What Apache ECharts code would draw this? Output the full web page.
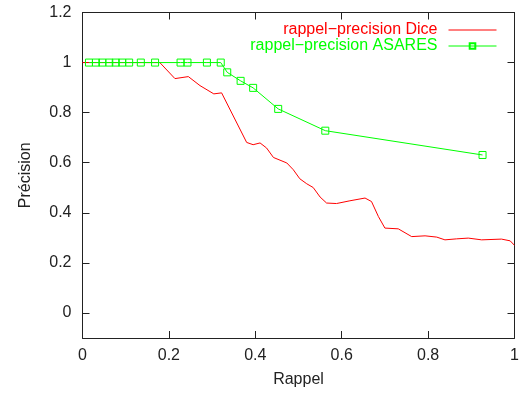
<!DOCTYPE html>
<html>
<head>
<meta charset="utf-8">
<script src="https://cdn.jsdelivr.net/npm/echarts@6/dist/echarts.min.js"></script>
<style>
  html, body { margin: 0; padding: 0; background: #fff; }
  #chart { width: 525px; height: 396px; }
</style>
</head>
<body>
<div id="chart"></div>
<script>
// Recall / precision curves
const diceRecall = [0, 0.179, 0.214, 0.245, 0.272, 0.304, 0.322, 0.380, 0.395, 0.411, 0.426, 0.442,
  0.473, 0.488, 0.503, 0.519, 0.534, 0.550, 0.565, 0.588, 0.619, 0.654, 0.669, 0.685, 0.700,
  0.731, 0.762, 0.793, 0.820, 0.839, 0.866, 0.893, 0.924, 0.970, 0.990, 1.0];
const dicePrecision = [1, 1.0, 0.936, 0.944, 0.908, 0.875, 0.879, 0.681, 0.672, 0.679, 0.659, 0.621,
  0.599, 0.572, 0.536, 0.516, 0.501, 0.463, 0.439, 0.437, 0.448, 0.459, 0.445, 0.385, 0.339,
  0.336, 0.305, 0.308, 0.303, 0.292, 0.296, 0.299, 0.292, 0.295, 0.288, 0.27];

const asaresRecall = [0.015, 0.031, 0.046, 0.062, 0.077, 0.092, 0.108, 0.135, 0.168, 0.227,
  0.243, 0.288, 0.320, 0.335, 0.366, 0.395, 0.453, 0.562, 0.926];
const asaresPrecision = [1, 1, 1, 1, 1, 1, 1, 1, 1, 1,
  1, 1, 1, 0.961, 0.927, 0.899, 0.815, 0.728, 0.631];

const xTicks = [0, 0.2, 0.4, 0.6, 0.8, 1];
const yTicks = [0, 0.2, 0.4, 0.6, 0.8, 1, 1.2];

const seriesNames = ['rappel\u2212precision Dice', 'rappel\u2212precision ASARES'];
const RED = '#ff0000';
const GREEN = '#00ff00';
const AXIS = '#222';
const FONT = 'Liberation Sans, Arial, sans-serif';
const FS = 16;

const zip = (xs, ys) => xs.map((x, i) => [x, ys[i]]);

const chart = echarts.init(document.getElementById('chart'), null, { renderer: 'canvas' });

const axisCommon = {
  axisLine: { show: true, onZero: false, lineStyle: { color: AXIS, width: 1 } },
  axisTick: { show: true, inside: true, length: 7, lineStyle: { color: AXIS, width: 1 } },
  splitLine: { show: false }
};

chart.setOption({
  animation: false,
  backgroundColor: '#fff',
  textStyle: { fontFamily: FONT },
  grid: { left: 82.5, right: 10.5, top: 12.5, bottom: 58, containLabel: false },
  legend: {
    orient: 'vertical',
    right: 23,
    top: 17,
    align: 'right',
    itemWidth: 48,
    itemHeight: 7,
    itemGap: 0,
    textStyle: { fontSize: FS, fontFamily: FONT, padding: [0, 6, 0, 0] },
    data: [
      { name: seriesNames[0], textStyle: { color: RED }, itemStyle: { opacity: 0 },
        lineStyle: { width: 1 } },
      { name: seriesNames[1], textStyle: { color: GREEN }, lineStyle: { width: 1 } }
    ]
  },
  xAxis: [
    Object.assign({}, axisCommon, {
      type: 'value', min: 0, max: 1, interval: 0.2, position: 'bottom',
      name: 'Rappel', nameLocation: 'middle', nameGap: 34,
      nameTextStyle: { fontSize: FS, color: AXIS, fontFamily: FONT },
      axisLabel: { fontSize: FS, color: AXIS, margin: 10, fontFamily: FONT,
        customValues: xTicks },
      axisTick: Object.assign({}, axisCommon.axisTick, { customValues: xTicks })
    }),
    Object.assign({}, axisCommon, {
      type: 'value', min: 0, max: 1, interval: 0.2, position: 'top',
      axisLabel: { show: false },
      axisTick: Object.assign({}, axisCommon.axisTick, { customValues: xTicks })
    })
  ],
  yAxis: [
    Object.assign({}, axisCommon, {
      type: 'value', min: -0.1, max: 1.2, position: 'left',
      name: 'Précision', nameLocation: 'middle', nameGap: 49, nameRotate: 90,
      nameTextStyle: { fontSize: FS, color: AXIS, fontFamily: FONT },
      axisLabel: { fontSize: FS, color: AXIS, margin: 11, fontFamily: FONT,
        customValues: yTicks },
      axisTick: Object.assign({}, axisCommon.axisTick, { customValues: yTicks })
    }),
    Object.assign({}, axisCommon, {
      type: 'value', min: -0.1, max: 1.2, position: 'right',
      axisLabel: { show: false },
      axisTick: Object.assign({}, axisCommon.axisTick, { customValues: yTicks })
    })
  ],
  series: [
    {
      name: seriesNames[0],
      type: 'line',
      xAxisIndex: 0, yAxisIndex: 0,
      data: zip(diceRecall, dicePrecision),
      symbol: 'none',
      lineStyle: { color: RED, width: 1 },
      itemStyle: { color: RED },
      z: 2
    },
    {
      name: seriesNames[1],
      type: 'line',
      xAxisIndex: 0, yAxisIndex: 0,
      data: zip(asaresRecall, asaresPrecision),
      symbol: 'rect',
      symbolSize: 7,
      showAllSymbol: true,
      lineStyle: { color: GREEN, width: 1 },
      itemStyle: { color: 'rgba(0,0,0,0)', borderColor: GREEN, borderWidth: 1 },
      emphasis: { disabled: true },
      z: 3
    }
  ]
});
</script>
</body>
</html>
